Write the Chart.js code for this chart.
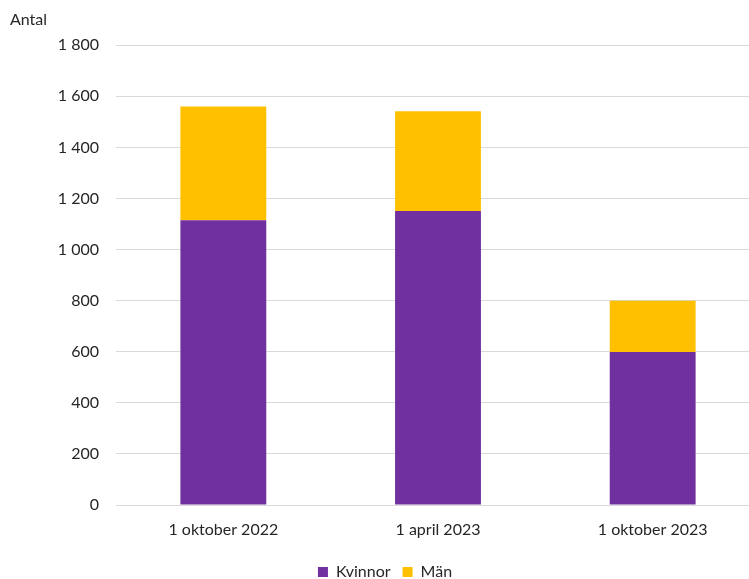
<!DOCTYPE html>
<html><head><meta charset="utf-8">
<script src="https://cdn.jsdelivr.net/npm/chart.js@4/dist/chart.umd.min.js"></script>
<style>html,body{margin:0;padding:0;overflow:hidden;background:#fff}#wrap{width:760px;height:579px}</style>
</head><body><div id="wrap"><canvas id="c" width="760" height="579"></canvas></div>
<script>
const categories = ["1 oktober 2022", "1 april 2023", "1 oktober 2023"];
const kvinnor = [1115, 1151, 599];
const man = [445, 390, 201];
const yTicks = [0, 200, 400, 600, 800, 1000, 1200, 1400, 1600, 1800];
const fmt = v => String(v).replace(/\B(?=(\d{3})+(?!\d))/g, " ");
const FONT = "Lato, 'Open Sans', sans-serif";
Chart.defaults.font.family = FONT;
Chart.defaults.color = "#262626";
new Chart(document.getElementById('c'), {
  type: 'bar',
  data: {
    labels: categories,
    datasets: [
      {label: 'Kvinnor', data: kvinnor, backgroundColor: '#7030A0', borderWidth: 0},
      {label: 'Män', data: man, backgroundColor: '#FFC000', borderWidth: 0}
    ]
  },
  options: {
    responsive: false,
    animation: false,
    layout: {padding: {left: 10, right: 0, top: 0, bottom: -11}},
    datasets: {bar: {categoryPercentage: 1, barPercentage: 0.4}},
    plugins: {
      title: {display: true, text: 'Antal', align: 'start', font: {size: 16, weight: 'normal'}, color: '#262626', padding: {top: 10, bottom: 16}},
      legend: {position: 'bottom', labels: {boxWidth: 10, boxHeight: 10, font: {size: 16}, color: '#262626', padding: 12}},
      tooltip: {enabled: false}
    },
    scales: {
      x: {stacked: true, grid: {display: false}, border: {display: true, color: '#d9d9d9'},
          afterFit: a => { a.height = 47; },
          ticks: {font: {size: 16}, color: '#262626', padding: 7}},
      y: {stacked: true, min: 0, max: 1800, afterBuildTicks: a => { a.ticks = yTicks.map(v => ({value: v})); },
          afterFit: a => { a.width = 106; },
          grid: {color: '#d9d9d9', drawTicks: false}, border: {display: false},
          ticks: {font: {size: 16}, color: '#262626', padding: 17, callback: v => fmt(v)}}
    }
  }
});
</script></body></html>
